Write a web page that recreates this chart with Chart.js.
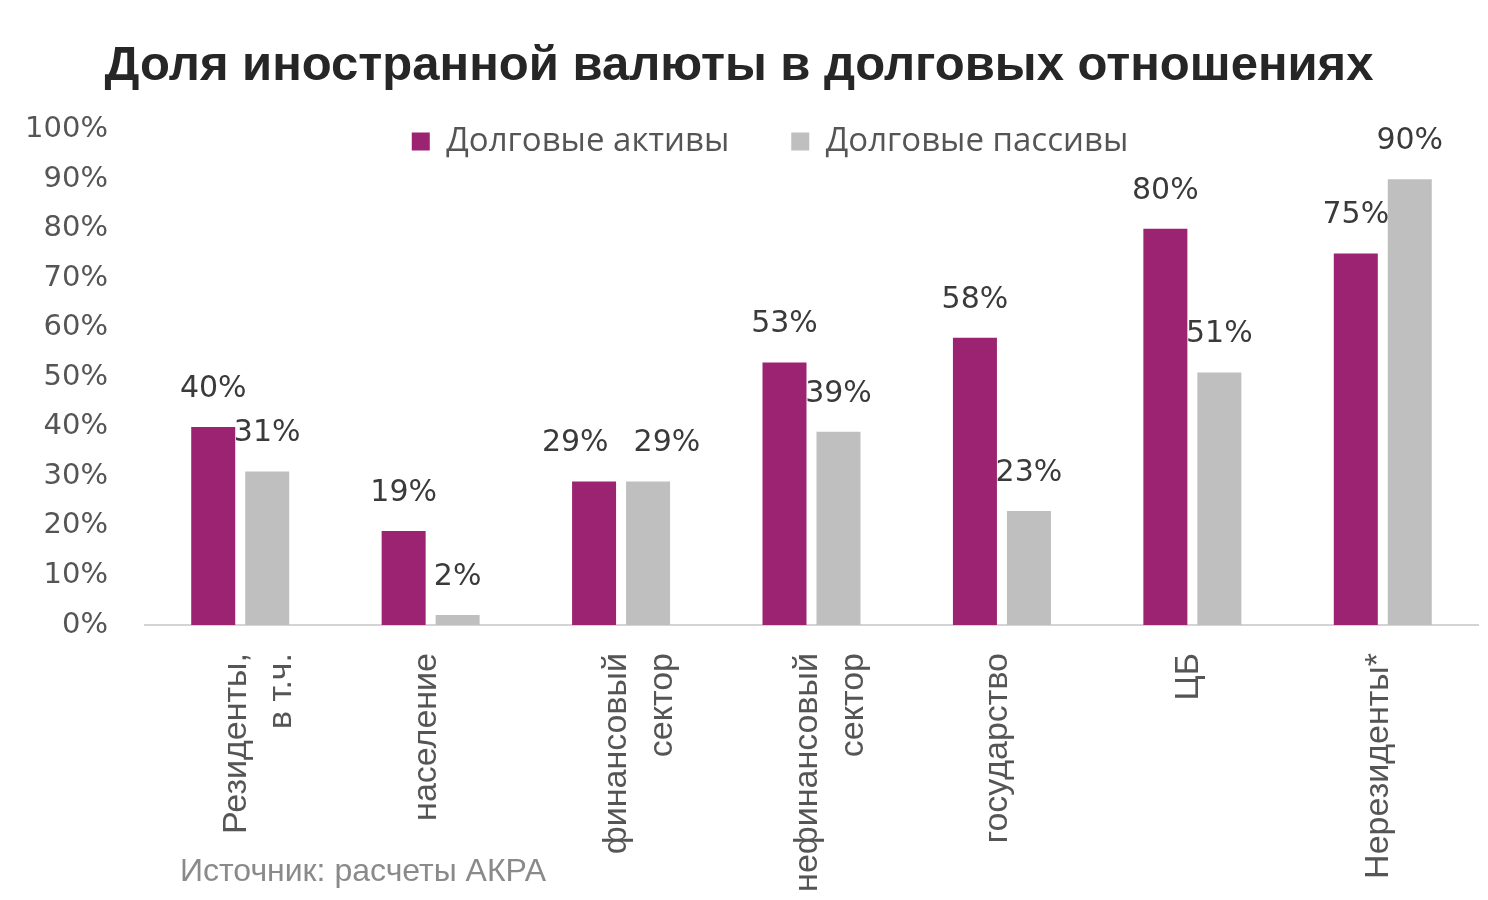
<!DOCTYPE html>
<html>
<head>
<meta charset="utf-8">
<script src="https://cdn.jsdelivr.net/npm/chart.js@4"></script>
<style>
    body { margin: 0; background: #ffffff; }
    #wrap { width: 1488px; height: 900px; }
</style>
</head>
<body>
<div id="wrap"><canvas id="graphic" width="1488" height="900"></canvas></div>
<script>
let categories = [["Резиденты,", "в т.ч."], "население", ["финансовый", "сектор"], ["нефинансовый", "сектор"], "государство", "ЦБ", "Нерезиденты*"]
let assets = [40, 19, 29, 53, 58, 80, 75]
let liabilities = [31, 2, 29, 39, 23, 51, 90]
let yTicks = [0, 10, 20, 30, 40, 50, 60, 70, 80, 90, 100]

let purple = "rgb(155,35,114)"
let grey = "rgb(191,191,191)"
let textColor = "#555555"

// labels above each bar, pushed apart when two in a group would overlap
let valueLabels = {
    id: "valueLabels",
    afterDatasetsDraw(chart) {
        let ctx = chart.ctx
        ctx.save()
        ctx.font = "30px 'DejaVu Sans'"
        ctx.fillStyle = "#3a3a3a"
        ctx.textAlign = "center"
        ctx.textBaseline = "middle"
        let a = chart.getDatasetMeta(0).data
        let b = chart.getDatasetMeta(1).data
        for (let j = 0; j < a.length; j++) {
            let t1 = assets[j] + "%"
            let t2 = liabilities[j] + "%"
            let x1 = a[j].x
            let x2 = b[j].x
            let y1 = a[j].y - 38
            let y2 = b[j].y - 38
            let w1 = ctx.measureText(t1).width
            let w2 = ctx.measureText(t2).width
            let need = w1 / 2 + w2 / 2 + 25
            if (Math.abs(y1 - y2) < 30 && x2 - x1 < need) {
                let mid = (x1 + x2) / 2
                x1 = mid - need / 2
                x2 = mid + need / 2
            }
            ctx.fillText(t1, x1, y1)
            ctx.fillText(t2, x2, y2)
        }
        ctx.restore()
    },
}

// source note under the chart
let sourceNote = {
    id: "sourceNote",
    afterDraw(chart) {
        let ctx = chart.ctx
        ctx.save()
        ctx.font = "32px 'Liberation Sans'"
        ctx.fillStyle = "#8a8a8a"
        ctx.textAlign = "left"
        ctx.textBaseline = "alphabetic"
        ctx.fillText("Источник: расчеты АКРА", 180, 881)
        ctx.restore()
    },
}

// legend sits inside the plot, near its top edge
let legendShift = {
    id: "legendShift",
    afterLayout(chart) {
        let l = chart.legend
        l.top = 63
        l.bottom = 175
        l.left += 31
        l.right += 31
    },
}

const chartID = document.getElementById("graphic").getContext("2d")
let graphic = new Chart(chartID, {
    type: "bar",
    data: {
        labels: categories,
        datasets: [
            {
                label: "Долговые активы",
                data: assets,
                backgroundColor: purple,
                categoryPercentage: 0.567,
                barPercentage: 0.815,
            },
            {
                label: "Долговые пассивы",
                data: liabilities,
                backgroundColor: grey,
                categoryPercentage: 0.567,
                barPercentage: 0.815,
            },
        ],
    },
    options: {
        responsive: false,
        animation: false,
        layout: {
            padding: { left: 0, right: 10, top: 0, bottom: 0 },
        },
        plugins: {
            title: {
                display: true,
                text: "Доля иностранной валюты в долговых отношениях",
                color: "#262626",
                font: { family: "'Liberation Sans'", size: 49, weight: "bold" },
                padding: { top: 37, bottom: 0 },
            },
            legend: {
                position: "top",
                align: "center",
                maxHeight: 34,
                labels: {
                    color: textColor,
                    font: { family: "'Open Sans'", size: 33 },
                    boxWidth: 18,
                    boxHeight: 18,
                    padding: 62,
                },
            },
            tooltip: { enabled: false },
        },
        scales: {
            x: {
                grid: { display: false },
                border: { display: true, color: "#d4d4d4", width: 2 },
                ticks: {
                    color: textColor,
                    font: { family: "'Liberation Sans'", size: 34, lineHeight: 1.35 },
                    minRotation: 90,
                    maxRotation: 90,
                    padding: 20,
                    labelOffset: -4,
                },
                afterFit(scale) {
                    scale.height = 275
                },
            },
            y: {
                min: 0,
                max: 100,
                grid: { display: false },
                border: { display: false },
                afterBuildTicks(scale) {
                    scale.ticks = yTicks.map(function (v) {
                        return { value: v }
                    })
                },
                ticks: {
                    color: textColor,
                    font: { family: "'DejaVu Sans'", size: 29 },
                    padding: 29,
                    callback: function (v) {
                        return v + "%"
                    },
                },
                afterFit(scale) {
                    scale.width = 145
                },
            },
        },
    },
    plugins: [valueLabels, sourceNote, legendShift],
})
</script>
</body>
</html>
